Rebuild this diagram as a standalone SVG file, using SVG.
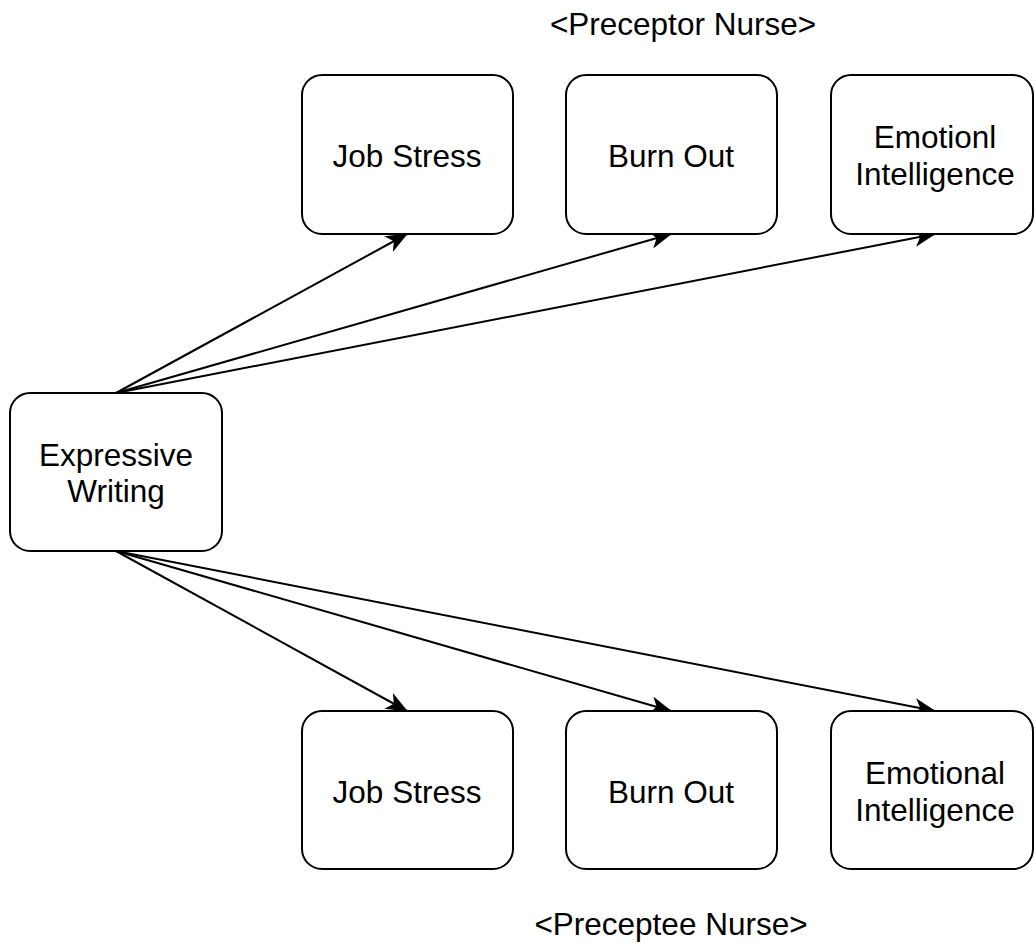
<svg xmlns="http://www.w3.org/2000/svg" width="1035" height="943" viewBox="0 0 1035 943">
<defs>
<style>
.box{fill:#ffffff;stroke:#000000;stroke-width:2}
.t{font-family:"Liberation Sans",Arial,sans-serif;font-size:31.5px;fill:#000000;text-anchor:middle}
.c{fill:none;stroke:#000000;stroke-width:2;marker-end:url(#arrow)}
</style>
<marker id="arrow" viewBox="0 0 22 18" refX="21" refY="9" markerWidth="22" markerHeight="18" markerUnits="userSpaceOnUse" orient="auto">
<path d="M0,0 L22,9 L0,18 L6,9 Z" fill="#000000"/>
</marker>
</defs>
<rect width="1035" height="943" fill="#ffffff"/>
<g id="connectors">
<line class="c" x1="116" y1="393" x2="407" y2="234"/>
<line class="c" x1="116" y1="393" x2="671" y2="234"/>
<line class="c" x1="116" y1="393" x2="935" y2="234"/>
<line class="c" x1="116" y1="551" x2="407" y2="711"/>
<line class="c" x1="116" y1="551" x2="671" y2="711"/>
<line class="c" x1="116" y1="551" x2="935" y2="711"/>
</g>
<g id="label-preceptor"><text class="t" x="683" y="35">&lt;Preceptor Nurse&gt;</text></g>
<g id="label-preceptee"><text class="t" x="671" y="935">&lt;Preceptee Nurse&gt;</text></g>
<g id="expressive-writing">
<rect class="box" x="10" y="393" width="212" height="158" rx="20"/>
<text class="t" x="116" y="466">Expressive</text>
<text class="t" x="116" y="502">Writing</text>
</g>
<g id="top-job-stress">
<rect class="box" x="302" y="75" width="211" height="159" rx="20"/>
<text class="t" x="407" y="167">Job Stress</text>
</g>
<g id="top-burn-out">
<rect class="box" x="566" y="75" width="211" height="159" rx="20"/>
<text class="t" x="671" y="167">Burn Out</text>
</g>
<g id="top-emotional-intelligence">
<rect class="box" x="831" y="75" width="202" height="159" rx="20"/>
<text class="t" x="935" y="148">Emotionl</text>
<text class="t" x="935" y="185">Intelligence</text>
</g>
<g id="bottom-job-stress">
<rect class="box" x="302" y="711" width="211" height="158" rx="20"/>
<text class="t" x="407" y="803">Job Stress</text>
</g>
<g id="bottom-burn-out">
<rect class="box" x="566" y="711" width="211" height="158" rx="20"/>
<text class="t" x="671" y="803">Burn Out</text>
</g>
<g id="bottom-emotional-intelligence">
<rect class="box" x="831" y="711" width="202" height="158" rx="20"/>
<text class="t" x="935" y="784">Emotional</text>
<text class="t" x="935" y="821">Intelligence</text>
</g>
</svg>
